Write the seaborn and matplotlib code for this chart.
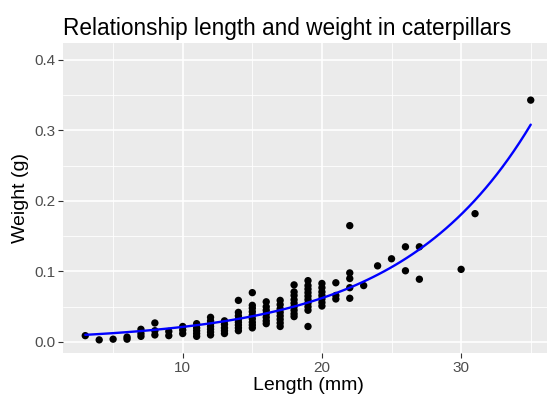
import numpy as np
import pandas as pd
import matplotlib
matplotlib.use("Agg")
import matplotlib.pyplot as plt
import seaborn as sns
from matplotlib.ticker import MultipleLocator

# ---- data ----
lengths = {
    3: [0.009],
    4: [0.003],
    5: [0.004],
    6: [0.004, 0.007],
    7: [0.008, 0.012, 0.018],
    8: [0.010, 0.016, 0.027],
    9: [0.009, 0.015],
    10: [0.012, 0.017, 0.022],
    11: [0.008, 0.012, 0.016, 0.020, 0.026],
    12: [0.010, 0.014, 0.018, 0.022, 0.026, 0.030, 0.035],
    13: [0.012, 0.016, 0.020, 0.025, 0.030],
    14: [0.016, 0.020, 0.024, 0.028, 0.032, 0.037, 0.042, 0.059],
    15: [0.020, 0.024, 0.028, 0.033, 0.038, 0.043, 0.048, 0.052, 0.070],
    16: [0.026, 0.030, 0.035, 0.040, 0.045, 0.050, 0.057],
    17: [0.022, 0.027, 0.032, 0.037, 0.042, 0.047, 0.053, 0.059],
    18: [0.036, 0.040, 0.045, 0.050, 0.055, 0.060, 0.066, 0.071, 0.081],
    19: [0.022, 0.045, 0.050, 0.055, 0.060, 0.065, 0.070, 0.075, 0.080, 0.087],
    20: [0.051, 0.056, 0.061, 0.066, 0.071, 0.077, 0.083],
    21: [0.061, 0.066, 0.084],
    22: [0.062, 0.077, 0.090, 0.098, 0.165],
    23: [0.080],
    24: [0.108],
    25: [0.118],
    26: [0.101, 0.135],
    27: [0.089, 0.135],
    30: [0.103],
    31: [0.182],
    35: [0.343],
}
length_mm = [k for k, v in lengths.items() for _ in v]
weight_g = [w for v in lengths.values() for w in v]

title = "Relationship length and weight in caterpillars"
xlabel = "Length (mm)"
ylabel = "Weight (g)"

df = pd.DataFrame({"length": length_mm, "weight": weight_g})

# exponential model weight = a * exp(b * length), fitted by nonlinear least squares
x = df["length"].to_numpy(float)
y = df["weight"].to_numpy(float)
b, loga = np.polyfit(x, np.log(y), 1)
a = np.exp(loga)
for _ in range(100):
    f = a * np.exp(b * x)
    J = np.column_stack([np.exp(b * x), a * x * np.exp(b * x)])
    step, *_ = np.linalg.lstsq(J, y - f, rcond=None)
    a += step[0]
    b += step[1]
# evaluate the fitted model on a fine grid across the data range (like a smoother)
grid = np.linspace(x.min(), x.max(), 80)
fit_df = pd.DataFrame({"length": grid, "fit": a * np.exp(b * grid)})

# ---- figure ----
sns.set_theme(style="darkgrid")
plt.rcParams["font.family"] = ["Liberation Sans", "DejaVu Sans"]
fig = plt.figure(figsize=(5.47, 4.05), dpi=100)
ax = fig.add_axes([63 / 547, (405 - 353) / 405, (553 - 63) / 547, (353 - 43) / 405])
ax.set_facecolor("#EBEBEB")

sns.scatterplot(data=df, x="length", y="weight", ax=ax, color="black",
                s=28, edgecolor="none", zorder=3)
sns.lineplot(data=fit_df, x="length", y="fit", ax=ax, color="blue",
             linewidth=1.7, zorder=4, errorbar=None, estimator=None)

ax.set_xlim(1.4, 36.6)
ax.set_ylim(-0.0156, 0.424)
ax.xaxis.set_major_locator(MultipleLocator(10))
ax.xaxis.set_minor_locator(MultipleLocator(5))
ax.yaxis.set_major_locator(MultipleLocator(0.1))
ax.yaxis.set_minor_locator(MultipleLocator(0.05))
ax.yaxis.set_major_formatter(matplotlib.ticker.FormatStrFormatter("%.1f"))
ax.grid(which="major", color="white", linewidth=1.2)
ax.grid(which="minor", color="white", linewidth=0.6)
ax.set_axisbelow(True)
for s in ax.spines.values():
    s.set_visible(False)
ax.tick_params(axis="both", which="major", length=3.5, width=0.8, color="#333333",
               labelsize=11, labelcolor="#4D4D4D", pad=2, bottom=True, left=True)
ax.tick_params(which="minor", length=0)

ax.set_xlabel(xlabel, fontsize=14, color="black", labelpad=2)
ax.set_ylabel(ylabel, fontsize=14, color="black", labelpad=4)
fig.text(63 / 547, 1 - 28 / 405, title, fontsize=16.3, color="black",
         ha="left", va="center")

fig.savefig("out.png", dpi=100)
